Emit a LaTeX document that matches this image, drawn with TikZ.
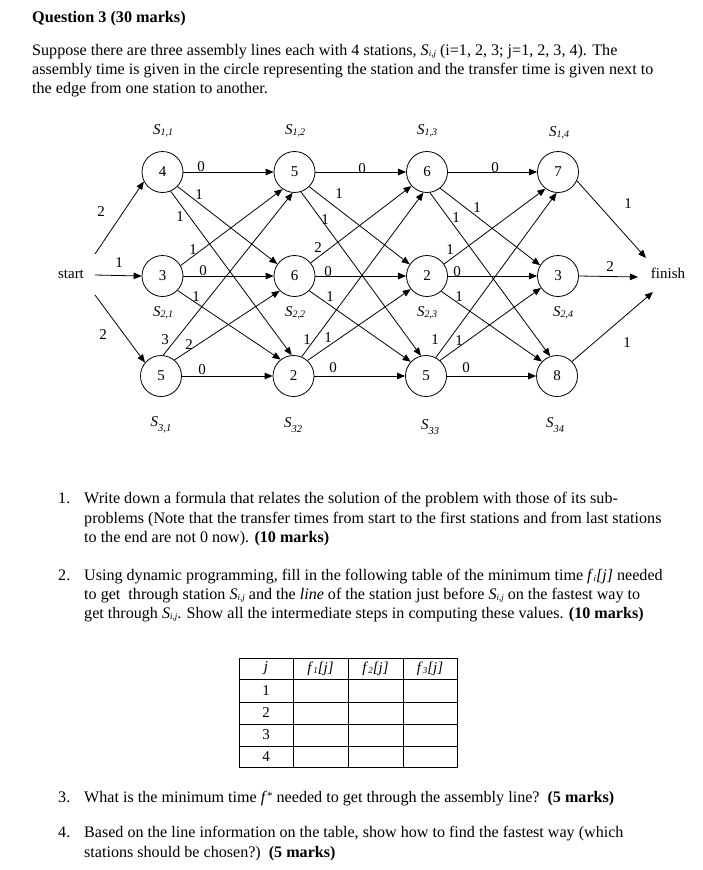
\documentclass[tikz,border=0pt]{standalone}
\usepackage{fontspec}
\setmainfont{Liberation Serif}
\usetikzlibrary{arrows.meta}
\newcommand{\Sa}[1]{\textit{S}{\fontsize{10}{10}\selectfont\raisebox{-1pt}{\textit{#1}}}}
\newcommand{\Sb}[1]{\textit{S}{\fontsize{10.5}{10}\selectfont\raisebox{-4.5pt}{\textit{#1}}}}
\newcommand{\Sp}[1]{\textit{S}{\fontsize{9}{9}\selectfont\raisebox{-1.5pt}{\textit{#1}}}}
\newcommand{\fsub}[1]{\textit{f}{\fontsize{9}{9}\selectfont\raisebox{-1.5pt}{\textit{#1}}}\textit{[j]}}
\begin{document}
\begin{tikzpicture}[x=1pt,y=-1pt,
  station/.style={circle,draw,line width=0.8pt,minimum size=41pt,inner sep=0pt,font=\fontsize{15}{15}\selectfont},
  edge/.style={line width=0.8pt,-{Triangle[length=8pt,width=6.5pt]}},
  wt/.style={font=\fontsize{15}{15}\selectfont,inner sep=0pt},
  lbl/.style={font=\fontsize{15}{15}\selectfont,inner sep=0pt},
  txt/.style={anchor=base west,inner sep=0pt,font=\fontsize{16.1}{19}\selectfont},
  cell/.style={inner sep=0pt,font=\fontsize{15}{15}\selectfont},
]
\useasboundingbox (0,0) rectangle (703,870);
\fill[white] (0,0) rectangle (703,870);

% ---------- text ----------
\node[txt,font=\fontsize{16.2}{19}\selectfont\bfseries] (title) at (32,22) {Question 3 (30 marks)};
\node[txt] (p1) at (32,55) {Suppose there are three assembly lines each with 4 stations, \Sp{i,j} (i=1, 2, 3; j=1, 2, 3, 4). The};
\node[txt] (p2) at (32,74) {assembly time is given in the circle representing the station and the transfer time is given next to};
\node[txt] (p3) at (32,93) {the edge from one station to another.};

% ---------- stations ----------
\node[station] (a1) at (162.5,172) {4};
\node[station] (a2) at (294.5,172) {5};
\node[station] (a3) at (427,172) {6};
\node[station] (a4) at (558,172) {7};
\node[station] (b1) at (162.5,276) {3};
\node[station] (b2) at (294.5,276) {6};
\node[station] (b3) at (427,276) {2};
\node[station] (b4) at (558,276) {3};
\node[station] (c1) at (161,376) {5};
\node[station] (c2) at (293.5,376) {2};
\node[station] (c3) at (426,376) {5};
\node[station] (c4) at (557,376) {8};

\node[lbl] (start) at (71,274) {start};
\node[lbl] (finish) at (668,273) {finish};
\coordinate (st1) at (95,254);
\coordinate (st2) at (95,275);
\coordinate (st3) at (95,295);
\coordinate (fi1) at (646,258);
\coordinate (fi2) at (638,277);
\coordinate (fi3) at (653,292);

% station labels
\node[lbl] (l11) at (163,131) {\Sa{1,1}};
\node[lbl] (l12) at (295,131) {\Sa{1,2}};
\node[lbl] (l13) at (427,131) {\Sa{1,3}};
\node[lbl] (l14) at (559,133) {\Sa{1,4}};
\node[lbl] (l21) at (163,313) {\Sa{2,1}};
\node[lbl] (l22) at (295,313) {\Sa{2,2}};
\node[lbl] (l23) at (427,313) {\Sa{2,3}};
\node[lbl] (l24) at (563,313) {\Sa{2,4}};
\node[lbl] (l31) at (161,425) {\Sb{3,1}};
\node[lbl] (l32) at (293,425) {\Sb{32}};
\node[lbl] (l33) at (430,427) {\Sb{33}};
\node[lbl] (l34) at (555,425) {\Sb{34}};

% ---------- edges ----------
\draw[edge] (st1) -- (a1.207);
\draw[edge] (st2) -- (b1.west);
\draw[edge] (st3) -- (c1.140);
\draw[edge] (a4.-25) -- (fi1);
\draw[edge] (b4.east) -- (fi2);
\draw[edge] (c4.44) -- (fi3);
\foreach \s/\e in {a1/a2,b1/b2,c1/c2,a2/a3,b2/b3,c2/c3,a3/a4,b3/b4,c3/c4}
  \draw[edge] (\s.east) -- (\e.west);
\foreach \s/\sa/\e/\ea in {a1/-44/b2/145, a1/-67/c2/95, b1/30/a2/235, b1/-44/c2/128,
  c1/84/a2/265, c1/50/b2/225, a2/-45/b3/146, a2/-72/c3/104, b2/39/a3/222, b2/-45/c3/137,
  c2/67/a3/260, c2/48/b3/219, a3/-51/b4/149, a3/-82/c4/109, b3/35/a4/233, b3/-47/c4/136,
  c3/62/a4/266, c3/48/b4/215}
  \draw[edge] (\s.\sa) -- (\e.\ea);

% ---------- weights ----------
\foreach \x/\y/\t [count=\k] in {201/167/0, 199/195/1, 180/217/1, 193/250/1, 203/271/0, 196/297/1, 165/340/3, 189/345/2, 202/370/0,
  362/169/0, 339/194/1, 325/220/1, 318/248/2, 328/272/0, 330/297/1, 307/340/1, 328/338/1, 333/368/0,
  495/168/0, 477/208/1, 456/218/1, 450/250/1, 457/272/0, 459/297/1, 435/340/1, 459/341/1, 466/368/0,
  101/212/2, 119/263/1, 103/335/2, 628/204/1, 610/267/2, 627/343/1}
  \node[wt] (w\k) at (\x,\y) {\t};

% ---------- questions ----------
\node[txt] (n1) at (58,503) {1.};
\node[txt] (i1a) at (84,503) {Write down a formula that relates the solution of the problem with those of its sub-};
\node[txt] (i1b) at (84,523) {problems (Note that the transfer times from start to the first stations and from last stations};
\node[txt] (i1c) at (84,542) {to the end are not 0 now). \textbf{(10 marks)}};
\node[txt] (n2) at (58,580) {2.};
\node[txt] (i2a) at (84,580) {Using dynamic programming, fill in the following table of the minimum time \fsub{i} needed};
\node[txt] (i2b) at (84,599) {to get\ \ through station \Sp{i,j} and the \textit{line} of the station just before \Sp{i,j} on the fastest way to};
\node[txt] (i2c) at (84,618) {get through \Sp{i,j}. Show all the intermediate steps in computing these values. \textbf{(10 marks)}};
\node[txt] (n3) at (58,802) {3.};
\node[txt] (i3) at (84,802) {What is the minimum time \textit{f}\raisebox{3pt}{\fontsize{11}{11}\selectfont *} needed to get through the assembly line?\ \ \textbf{(5 marks)}};
\node[txt] (n4) at (58,837) {4.};
\node[txt] (i4a) at (84,837) {Based on the line information on the table, show how to find the fastest way (which};
\node[txt] (i4b) at (84,857) {stations should be chosen?)\ \ \textbf{(5 marks)}};

% ---------- table ----------
\draw[line width=0.6pt] (239,658) rectangle (457,767);
\foreach \x in {293,348,403} \draw[line width=0.6pt] (\x,658) -- (\x,767);
\foreach \y in {679,702,724,746} \draw[line width=0.6pt] (239,\y) -- (457,\y);
\node[cell] (hj) at (266,668.5) {\textit{j}};
\node[cell] (h1) at (320.5,668.5) {\fsub{1}};
\node[cell] (h2) at (375.5,668.5) {\fsub{2}};
\node[cell] (h3) at (430,668.5) {\fsub{3}};
\node[cell] (r1) at (266,690.5) {1};
\node[cell] (r2) at (266,713) {2};
\node[cell] (r3) at (266,735) {3};
\node[cell] (r4) at (266,756.5) {4};
\end{tikzpicture}
\end{document}
